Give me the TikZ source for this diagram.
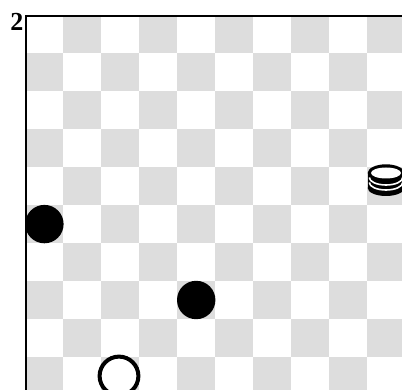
\documentclass[tikz,border=0pt]{standalone}
\usepackage{fontspec}
\setmainfont{Liberation Serif}
\definecolor{sq}{RGB}{221,221,221}
\tikzset{
  blackman/.style={fill=black},
  whiteman/.style={draw=black, line width=4pt, fill=white},
  stripe/.style={draw=white, line width=1.6pt}
}
\begin{document}
\begin{tikzpicture}[x=1pt,y=-1pt]
\useasboundingbox (0,0) rectangle (402,390);
\fill[white] (0,0) rectangle (402,390);
\begin{scope}
\clip (0,0) rectangle (402,390);
\foreach \r in {0,...,9}{
  \foreach \c in {0,...,9}{
    \pgfmathtruncatemacro\oddsq{mod(\r+\c,2)}
    \ifnum\oddsq=1
      \fill[sq] (25.4+\c*37.96, 15.3+\r*37.96) rectangle ++(37.96,37.96);
    \fi
  }
}
% pieces
\fill[blackman] (44.4,224.1) circle (19.2);
\fill[blackman] (196.2,300) circle (19.2);
\draw[whiteman] (119.0,376) circle (19.4);
% stack of three
\fill[black] (386,188) ellipse (18.3 and 8);
\fill[black] (367.7,173) rectangle (404,188);
\fill[black] (386,173) ellipse (18.3 and 8.7);
\fill[white] (386,173) ellipse (15 and 5.5);
\draw[stripe] (369.3,177.5) arc[start angle=180, end angle=0, x radius=16.7, y radius=7.5];
\draw[stripe] (369.3,182.5) arc[start angle=180, end angle=0, x radius=16.7, y radius=7.5];
\end{scope}
% border
\draw[line width=2pt] (26,390) -- (26,15.7) -- (402,15.7);
\node[anchor=base east, inner sep=0pt, font=\bfseries\fontsize{26}{26}\selectfont] (lbl) at (23.5,30.5) {2};
\end{tikzpicture}
\end{document}
